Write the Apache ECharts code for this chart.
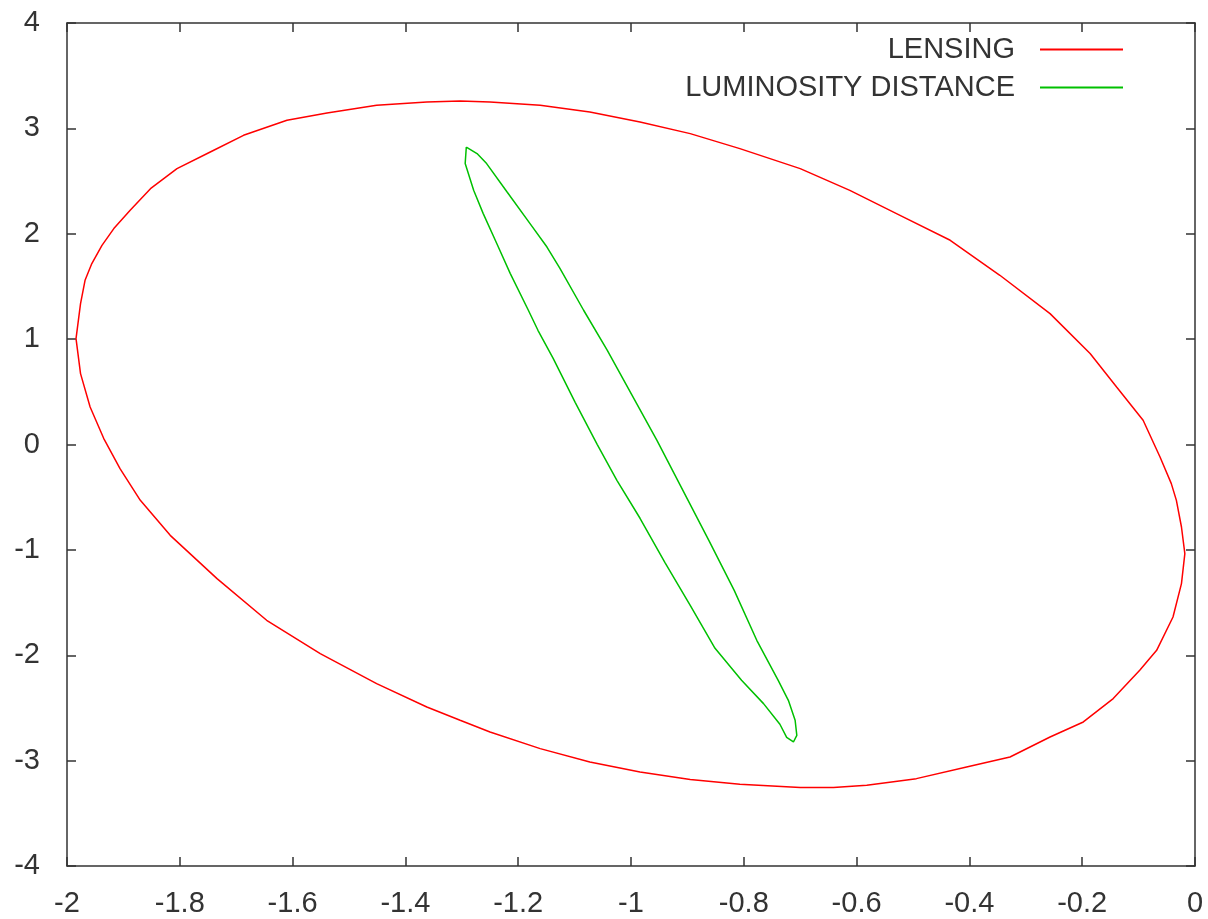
<!DOCTYPE html>
<html>
<head>
<meta charset="utf-8">
<script src="https://cdn.jsdelivr.net/npm/echarts@6/dist/echarts.min.js"></script>
<style>html,body{margin:0;padding:0;background:#fff}#c{width:1208px;height:919px}</style>
</head>
<body>
<div id="c"></div>
<script>
// ---- data ----
const seriesNames = ['LENSING', 'LUMINOSITY DISTANCE'];
const xTicks = [-2, -1.8, -1.6, -1.4, -1.2, -1, -0.8, -0.6, -0.4, -0.2, 0];
const yTicks = [-4, -3, -2, -1, 0, 1, 2, 3, 4];

const lensingX = [-1.984,-1.976,-1.968,-1.956,-1.938,-1.917,-1.888,-1.852,-1.805,-1.746,-1.687,-1.610,-1.539,-1.451,-1.362,-1.303,-1.250,-1.161,-1.073,-0.984,-0.895,-0.807,-0.700,-0.612,-0.523,-0.434,-0.346,-0.257,-0.186,-0.139,-0.092,-0.062,-0.042,-0.033,-0.024,-0.018,-0.024,-0.039,-0.068,-0.098,-0.145,-0.198,-0.257,-0.328,-0.405,-0.494,-0.582,-0.641,-0.700,-0.807,-0.895,-0.984,-1.073,-1.161,-1.250,-1.303,-1.362,-1.451,-1.551,-1.646,-1.734,-1.817,-1.870,-1.906,-1.935,-1.959,-1.976,-1.984];
const lensingY = [1.005,1.337,1.558,1.717,1.890,2.049,2.223,2.428,2.618,2.776,2.934,3.077,3.146,3.219,3.250,3.260,3.250,3.219,3.155,3.060,2.950,2.808,2.618,2.412,2.175,1.938,1.606,1.242,0.863,0.546,0.230,-0.119,-0.371,-0.530,-0.783,-1.035,-1.320,-1.637,-1.953,-2.143,-2.411,-2.633,-2.776,-2.966,-3.060,-3.171,-3.234,-3.256,-3.256,-3.225,-3.180,-3.108,-3.013,-2.886,-2.728,-2.617,-2.491,-2.269,-1.984,-1.668,-1.273,-0.862,-0.530,-0.229,0.059,0.356,0.673,1.005];

const lumX = [-1.292,-1.273,-1.256,-1.220,-1.179,-1.149,-1.126,-1.084,-1.042,-0.998,-0.954,-0.908,-0.862,-0.817,-0.777,-0.739,-0.721,-0.709,-0.706,-0.712,-0.724,-0.736,-0.765,-0.804,-0.851,-0.895,-0.940,-0.984,-1.025,-1.060,-1.099,-1.138,-1.165,-1.182,-1.214,-1.238,-1.262,-1.279,-1.294,-1.292];
const lumY = [2.823,2.761,2.666,2.398,2.096,1.874,1.672,1.274,0.894,0.467,0.040,-0.435,-0.909,-1.384,-1.858,-2.238,-2.428,-2.617,-2.760,-2.823,-2.779,-2.655,-2.459,-2.238,-1.934,-1.526,-1.118,-0.700,-0.340,0.002,0.400,0.818,1.084,1.274,1.622,1.907,2.191,2.412,2.666,2.823];

// ---- chart ----
const pairs = (xs, ys) => xs.map((x, i) => [x, ys[i]]);
const FONT = 'Liberation Sans, Arial, sans-serif';
const TXT = '#333';
const AX = '#333';
const FS = 29;
const fmt = v => (Math.round(v * 10) / 10).toString();

const chart = echarts.init(document.getElementById('c'), null, {renderer: 'canvas'});
const axisLineCfg = {show: true, onZero: false, lineStyle: {color: AX, width: 1.5}};
const tickCfg = {show: true, inside: true, length: 9, lineStyle: {color: AX, width: 1.5}};
const legendCfg = (name, top) => ({
  data: [name], right: 85, top: top, padding: 0, align: 'right', orient: 'vertical',
  icon: 'rect', itemWidth: 83, itemHeight: 2, selectedMode: false,
  textStyle: {fontFamily: FONT, fontSize: FS, color: TXT, padding: [0, 20, 0, 0]}
});
chart.setOption({
  animation: false,
  backgroundColor: '#fff',
  grid: {left: 67, right: 13, top: 23, bottom: 53, containLabel: false},
  legend: [legendCfg(seriesNames[0], 35), legendCfg(seriesNames[1], 73)],
  xAxis: [
    {type: 'value', min: xTicks[0], max: xTicks[xTicks.length - 1], interval: 0.2, position: 'bottom',
     axisLine: axisLineCfg, axisTick: tickCfg, splitLine: {show: false},
     axisLabel: {margin: 23, fontFamily: FONT, fontSize: FS, color: TXT, formatter: fmt}},
    {type: 'value', min: xTicks[0], max: xTicks[xTicks.length - 1], interval: 0.2, position: 'top',
     axisLine: axisLineCfg, axisTick: tickCfg, splitLine: {show: false}, axisLabel: {show: false}}
  ],
  yAxis: [
    {type: 'value', min: yTicks[0], max: yTicks[yTicks.length - 1], interval: 1, position: 'left',
     axisLine: axisLineCfg, axisTick: tickCfg, splitLine: {show: false},
     axisLabel: {margin: 27, fontFamily: FONT, fontSize: FS, color: TXT}},
    {type: 'value', min: yTicks[0], max: yTicks[yTicks.length - 1], interval: 1, position: 'right',
     axisLine: axisLineCfg, axisTick: tickCfg, splitLine: {show: false}, axisLabel: {show: false}}
  ],
  series: [
    {name: seriesNames[0], type: 'line', data: pairs(lensingX, lensingY), symbol: 'none', smooth: false,
     color: '#ff0000', lineStyle: {color: '#ff0000', width: 1.5}, z: 3},
    {name: seriesNames[1], type: 'line', data: pairs(lumX, lumY), symbol: 'none', smooth: false,
     color: '#00c000', lineStyle: {color: '#00c000', width: 1.5}, z: 3}
  ]
});
</script>
</body>
</html>
